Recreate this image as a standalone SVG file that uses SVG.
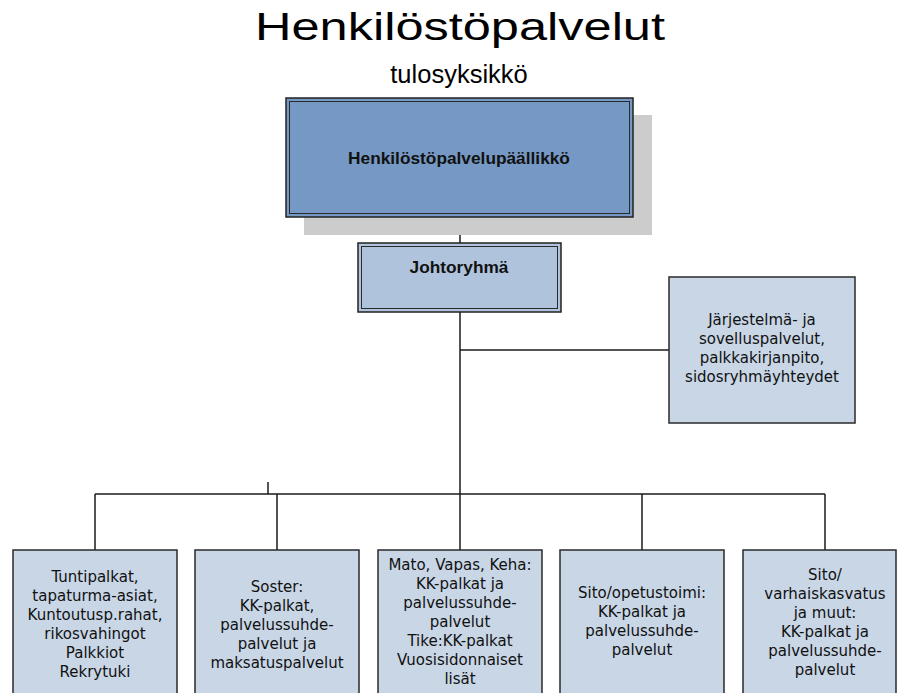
<svg xmlns="http://www.w3.org/2000/svg" width="897" height="693" viewBox="0 0 897 693">
<style>
.bg{fill:#ffffff}
.box{fill:#c8d6e6;stroke:#2a2a2a;stroke-width:1.5}
.dbl{fill:none;stroke:#2a2a2a;stroke-width:1}
.conn{fill:none;stroke:#1a1a1a;stroke-width:1.5}
.t{font-family:"DejaVu Sans",Tahoma,sans-serif;font-size:15px;fill:#111;text-anchor:middle}
.b{font-family:"Liberation Sans",Arial,sans-serif;font-weight:bold;font-size:17.3px;fill:#111;text-anchor:middle}
</style>
<rect class="bg" x="0" y="0" width="897" height="693"/>
<text x="255" y="40" font-family="Liberation Sans, Arial, sans-serif" font-size="38" textLength="410" lengthAdjust="spacingAndGlyphs" fill="#000">Henkilöstöpalvelut</text>
<text x="459" y="83" font-family="Liberation Sans, Arial, sans-serif" font-size="25.5" text-anchor="middle" fill="#000">tulosyksikkö</text>

<g id="connectors">
<line class="conn" x1="460" y1="217" x2="460" y2="243"/>
<line class="conn" x1="460" y1="312" x2="460" y2="494"/>
<line class="conn" x1="460" y1="350" x2="669" y2="350"/>
<line class="conn" x1="95" y1="494" x2="825" y2="494"/>
<line class="conn" x1="268" y1="482" x2="268" y2="494"/>
<line class="conn" x1="95" y1="494" x2="95" y2="550"/>
<line class="conn" x1="277" y1="494" x2="277" y2="550"/>
<line class="conn" x1="460" y1="494" x2="460" y2="550"/>
<line class="conn" x1="642" y1="494" x2="642" y2="550"/>
<line class="conn" x1="825" y1="494" x2="825" y2="550"/>
</g>

<g id="paallikko">
<rect x="304" y="115" width="348" height="120" fill="#cccccc"/>
<rect x="286" y="98" width="347" height="119" fill="#7598c4" stroke="#222" stroke-width="1.5"/>
<rect class="dbl" x="289.5" y="101.5" width="340" height="112"/>
<text class="b" x="459" y="164">Henkilöstöpalvelupäällikkö</text>
</g>

<g id="johtoryhma">
<rect x="358" y="243" width="203" height="69" fill="#afc3dc" stroke="#222" stroke-width="1.5"/>
<rect class="dbl" x="361.5" y="246.5" width="196" height="62"/>
<text class="b" x="459" y="273">Johtoryhmä</text>
</g>

<g id="jarjestelma">
<rect class="box" x="669" y="277" width="186" height="146"/>
<text class="t" x="762" y="325">Järjestelmä- ja</text>
<text class="t" x="762" y="344">sovelluspalvelut,</text>
<text class="t" x="762" y="363">palkkakirjanpito,</text>
<text class="t" x="762" y="382">sidosryhmäyhteydet</text>
</g>

<g id="tuntipalkat">
<rect class="box" x="13" y="550" width="164" height="150"/>
<text class="t" x="95" y="582">Tuntipalkat,</text>
<text class="t" x="95" y="601">tapaturma-asiat,</text>
<text class="t" x="95" y="620">Kuntoutusp.rahat,</text>
<text class="t" x="95" y="639">rikosvahingot</text>
<text class="t" x="95" y="658">Palkkiot</text>
<text class="t" x="95" y="677">Rekrytuki</text>
</g>

<g id="soster">
<rect class="box" x="195" y="550" width="164" height="150"/>
<text class="t" x="277" y="592">Soster:</text>
<text class="t" x="277" y="611">KK-palkat,</text>
<text class="t" x="277" y="630">palvelussuhde-</text>
<text class="t" x="277" y="649">palvelut ja</text>
<text class="t" x="277" y="668">maksatuspalvelut</text>
</g>

<g id="mato">
<rect class="box" x="378" y="550" width="164" height="150"/>
<text class="t" x="460" y="570">Mato, Vapas, Keha:</text>
<text class="t" x="460" y="589">KK-palkat ja</text>
<text class="t" x="460" y="608">palvelussuhde-</text>
<text class="t" x="460" y="627">palvelut</text>
<text class="t" x="460" y="646">Tike:KK-palkat</text>
<text class="t" x="460" y="665">Vuosisidonnaiset</text>
<text class="t" x="460" y="684">lisät</text>
</g>

<g id="opetustoimi">
<rect class="box" x="560" y="550" width="164" height="150"/>
<text class="t" x="642" y="598">Sito/opetustoimi:</text>
<text class="t" x="642" y="617">KK-palkat ja</text>
<text class="t" x="642" y="636">palvelussuhde-</text>
<text class="t" x="642" y="655">palvelut</text>
</g>

<g id="varhaiskasvatus">
<rect class="box" x="743" y="550" width="153" height="150"/>
<text class="t" x="825" y="580">Sito/</text>
<text class="t" x="825" y="599">varhaiskasvatus</text>
<text class="t" x="825" y="618">ja muut:</text>
<text class="t" x="825" y="637">KK-palkat ja</text>
<text class="t" x="825" y="656">palvelussuhde-</text>
<text class="t" x="825" y="675">palvelut</text>
</g>
</svg>
